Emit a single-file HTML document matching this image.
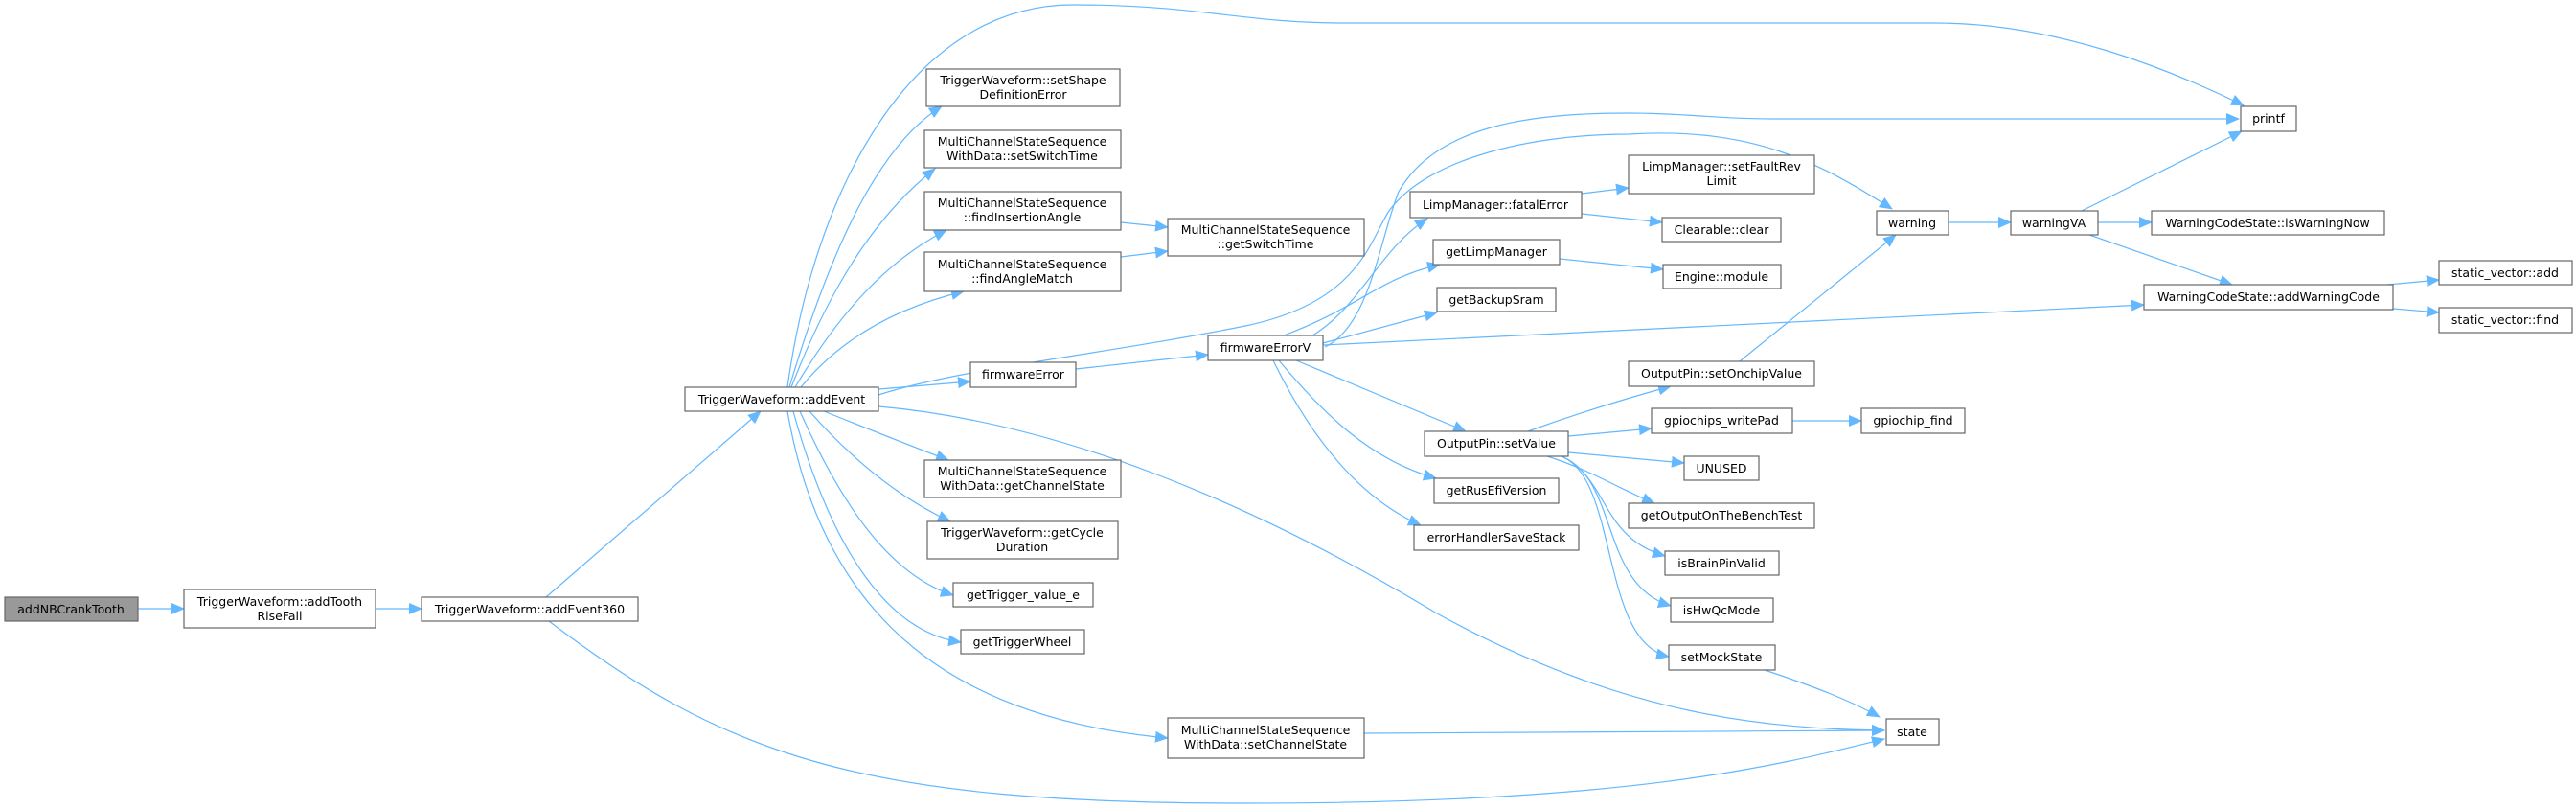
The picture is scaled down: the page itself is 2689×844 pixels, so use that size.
<!DOCTYPE html>
<html><head><meta charset="utf-8"><style>
html,body{margin:0;padding:0;background:#fff}
svg{display:block}
text{font-family:"DejaVu Sans","Liberation Sans",sans-serif;font-size:12.5px;fill:#000}
.n{fill:#fff;stroke:#666;stroke-width:1.2}
.e{fill:none;stroke:#63b8ff;stroke-width:1.2}
</style></head><body>
<svg width="2689" height="844" viewBox="0 0 2689 844" xmlns="http://www.w3.org/2000/svg">
<defs><marker id="a" markerUnits="userSpaceOnUse" markerWidth="14" markerHeight="12" viewBox="0 0 14 12" refX="13" refY="6" orient="auto"><path d="M0,0 L14,6 L0,12 z" fill="#63b8ff"/></marker></defs>
<g class="e" marker-end="url(#a)">
<path d="M144,635 L192,635"/>
<path d="M392,635 L440,635"/>
<path d="M570,623 L794,429"/>
<path d="M573,648 C760,790 900,838 1300,838 C1700,838 1850,800 1967,771"/>
<path d="M822,404 C850,200 950,5 1120,5 C1250,5 1300,24 1400,24 L2020,24 C2150,24 2270,75 2342,110"/>
<path d="M824,404 C870,250 920,150 983,111"/>
<path d="M826,404 C870,290 920,220 976,176"/>
<path d="M830,404 C880,320 930,270 988,240"/>
<path d="M836,404 C880,350 940,320 1006,304"/>
<path d="M917,412 C1000,385 1150,370 1300,340 C1420,315 1430,250 1450,220 C1490,165 1600,140 1700,140 C1830,132 1900,170 1975,218"/>
<path d="M1383,362 C1430,340 1440,250 1460,200 C1500,130 1600,118 1700,118 C1760,118 1790,124 1850,124 L2337,124"/>
<path d="M1370,350 C1420,320 1440,260 1490,228"/>
<path d="M1340,350 C1420,320 1440,290 1503,276"/>
<path d="M1381,358 L1500,326"/>
<path d="M1381,360 L2238,318"/>
<path d="M1353,376 L1530,450"/>
<path d="M1335,376 C1380,430 1430,480 1499,499"/>
<path d="M1329,376 C1370,460 1420,520 1483,548"/>
<path d="M1123,385 L1261,370"/>
<path d="M917,406 L1013,398"/>
<path d="M1170,232 L1219,237"/>
<path d="M1170,268 L1219,262"/>
<path d="M917,424 C1100,440 1300,520 1500,640 C1700,750 1850,760 1967,762"/>
<path d="M860,429 C900,445 950,465 990,480"/>
<path d="M845,429 C890,480 940,520 992,544"/>
<path d="M835,429 C880,530 930,600 995,621"/>
<path d="M828,429 C870,580 930,660 1003,670"/>
<path d="M822,429 C860,650 1000,750 1219,770"/>
<path d="M1424,765 L1967,762"/>
<path d="M1842,699 C1890,715 1930,730 1962,748"/>
<path d="M1595,450 C1650,430 1700,415 1744,403"/>
<path d="M1637,455 L1724,447"/>
<path d="M1637,472 L1758,483"/>
<path d="M1615,476 C1660,490 1690,510 1727,525"/>
<path d="M1630,476 C1680,500 1670,560 1738,580"/>
<path d="M1630,476 C1690,500 1670,610 1744,632"/>
<path d="M1630,476 C1690,500 1670,670 1742,685"/>
<path d="M1816,377 L1979,245"/>
<path d="M1871,439 L1943,439"/>
<path d="M1651,202 L1700,196"/>
<path d="M1651,223 L1735,232"/>
<path d="M1628,270 L1736,281"/>
<path d="M2034,232 L2099,232"/>
<path d="M2173,220 L2340,137"/>
<path d="M2190,232 L2246,232"/>
<path d="M2181,245 L2330,297"/>
<path d="M2492,297 L2546,292"/>
<path d="M2498,322 L2546,326"/>
</g>
<rect x="5" y="623" width="139" height="25" fill="#999" stroke="#666" stroke-width="1.2"/>
<text x="74" y="640" text-anchor="middle">addNBCrankTooth</text>
<g class="n">
<rect x="192" y="615" width="200" height="40"/>
<rect x="440" y="623" width="226" height="25"/>
<rect x="715" y="404" width="202" height="25"/>
<rect x="967" y="72" width="202" height="39"/>
<rect x="965" y="136" width="205" height="39"/>
<rect x="965" y="200" width="205" height="40"/>
<rect x="965" y="263" width="205" height="41"/>
<rect x="1219" y="228" width="205" height="39"/>
<rect x="1013" y="378" width="110" height="26"/>
<rect x="1261" y="350" width="120" height="26"/>
<rect x="1472" y="200" width="179" height="27"/>
<rect x="1496" y="250" width="132" height="26"/>
<rect x="1500" y="300" width="124" height="25"/>
<rect x="1487" y="450" width="150" height="26"/>
<rect x="1497" y="499" width="130" height="26"/>
<rect x="1476" y="548" width="172" height="26"/>
<rect x="965" y="480" width="205" height="39"/>
<rect x="968" y="544" width="199" height="39"/>
<rect x="995" y="608" width="146" height="25"/>
<rect x="1003" y="657" width="129" height="25"/>
<rect x="1219" y="749" width="205" height="42"/>
<rect x="1700" y="162" width="194" height="40"/>
<rect x="1735" y="227" width="124" height="25"/>
<rect x="1736" y="276" width="123" height="25"/>
<rect x="1700" y="377" width="194" height="26"/>
<rect x="1724" y="426" width="147" height="26"/>
<rect x="1758" y="476" width="78" height="25"/>
<rect x="1700" y="525" width="194" height="26"/>
<rect x="1738" y="575" width="119" height="25"/>
<rect x="1744" y="624" width="107" height="25"/>
<rect x="1742" y="673" width="111" height="26"/>
<rect x="2339" y="111" width="58" height="26"/>
<rect x="1959" y="220" width="75" height="25"/>
<rect x="2099" y="220" width="91" height="25"/>
<rect x="2246" y="220" width="243" height="25"/>
<rect x="2238" y="297" width="260" height="26"/>
<rect x="2546" y="272" width="139" height="25"/>
<rect x="2546" y="321" width="139" height="26"/>
<rect x="1943" y="426" width="108" height="26"/>
<rect x="1969" y="750" width="55" height="27"/>
</g>
<g text-anchor="middle">
<text x="292" y="632">TriggerWaveform::addTooth</text><text x="292" y="647">RiseFall</text>
<text x="553" y="640">TriggerWaveform::addEvent360</text>
<text x="816" y="421">TriggerWaveform::addEvent</text>
<text x="1068" y="88">TriggerWaveform::setShape</text><text x="1068" y="103">DefinitionError</text>
<text x="1067" y="152">MultiChannelStateSequence</text><text x="1067" y="167">WithData::setSwitchTime</text>
<text x="1067" y="216">MultiChannelStateSequence</text><text x="1067" y="231">::findInsertionAngle</text>
<text x="1067" y="280">MultiChannelStateSequence</text><text x="1067" y="295">::findAngleMatch</text>
<text x="1321" y="244">MultiChannelStateSequence</text><text x="1321" y="259">::getSwitchTime</text>
<text x="1068" y="395">firmwareError</text>
<text x="1321" y="367">firmwareErrorV</text>
<text x="1561" y="218">LimpManager::fatalError</text>
<text x="1562" y="267">getLimpManager</text>
<text x="1562" y="317">getBackupSram</text>
<text x="1562" y="467">OutputPin::setValue</text>
<text x="1562" y="516">getRusEfiVersion</text>
<text x="1562" y="565">errorHandlerSaveStack</text>
<text x="1067" y="496">MultiChannelStateSequence</text><text x="1067" y="511">WithData::getChannelState</text>
<text x="1067" y="560">TriggerWaveform::getCycle</text><text x="1067" y="575">Duration</text>
<text x="1068" y="625">getTrigger_value_e</text>
<text x="1067" y="674">getTriggerWheel</text>
<text x="1321" y="766">MultiChannelStateSequence</text><text x="1321" y="781">WithData::setChannelState</text>
<text x="1797" y="178">LimpManager::setFaultRev</text><text x="1797" y="193">Limit</text>
<text x="1797" y="244">Clearable::clear</text>
<text x="1797" y="293">Engine::module</text>
<text x="1797" y="394">OutputPin::setOnchipValue</text>
<text x="1797" y="443">gpiochips_writePad</text>
<text x="1797" y="493">UNUSED</text>
<text x="1797" y="542">getOutputOnTheBenchTest</text>
<text x="1797" y="592">isBrainPinValid</text>
<text x="1797" y="641">isHwQcMode</text>
<text x="1797" y="690">setMockState</text>
<text x="2368" y="128">printf</text>
<text x="1996" y="237">warning</text>
<text x="2144" y="237">warningVA</text>
<text x="2367" y="237">WarningCodeState::isWarningNow</text>
<text x="2368" y="314">WarningCodeState::addWarningCode</text>
<text x="2615" y="289">static_vector::add</text>
<text x="2615" y="338">static_vector::find</text>
<text x="1997" y="443">gpiochip_find</text>
<text x="1996" y="768">state</text>
</g>
</svg>
</body></html>
